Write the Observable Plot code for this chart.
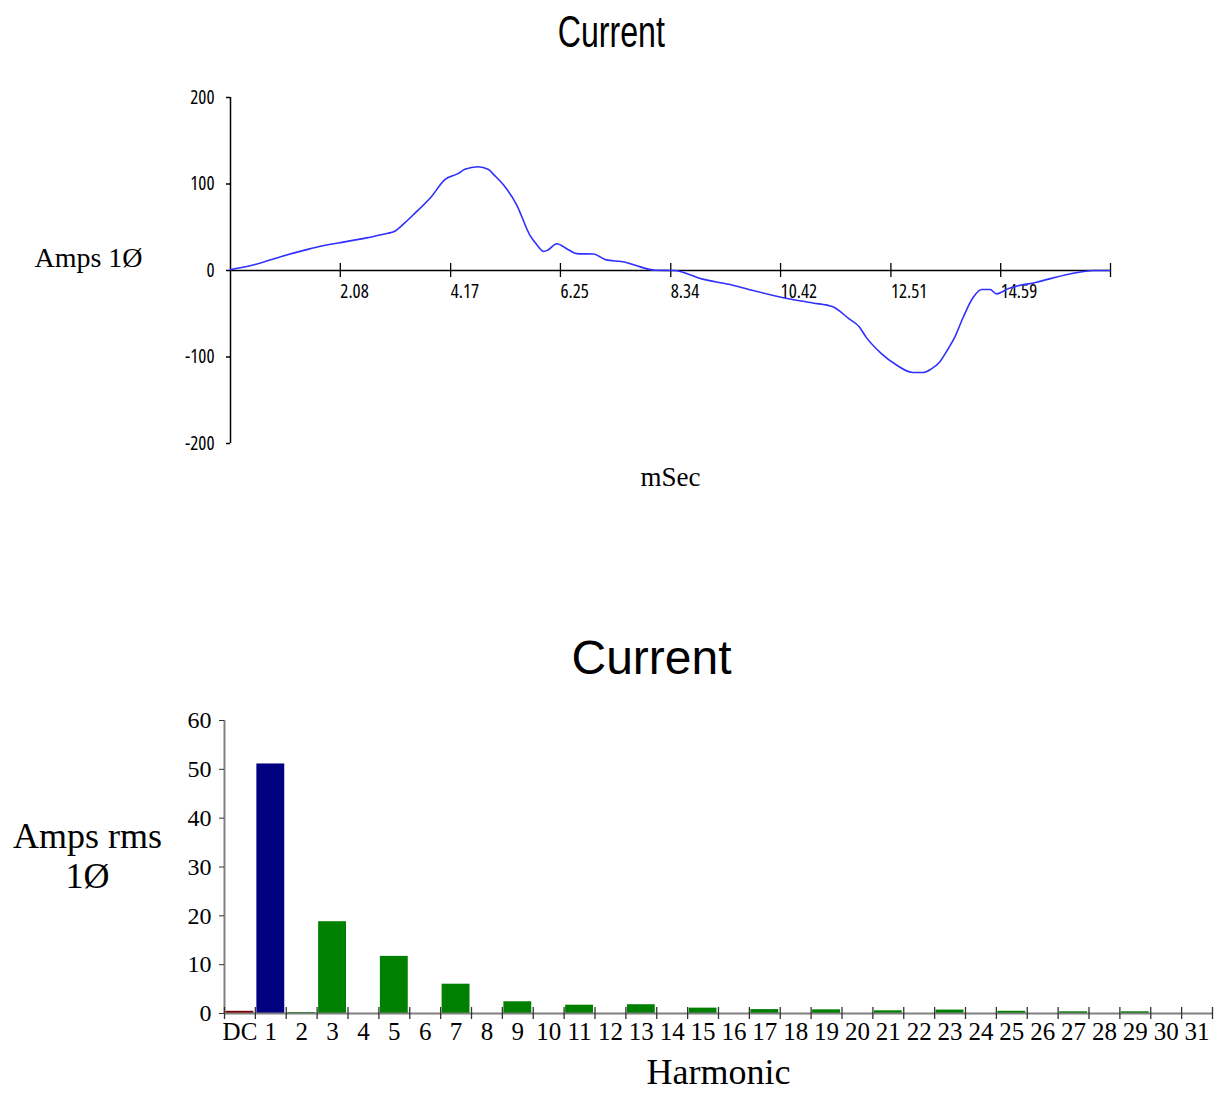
<!DOCTYPE html>
<html>
<head>
<meta charset="utf-8">
<script src="https://cdn.jsdelivr.net/npm/d3@7"></script>
<script src="https://cdn.jsdelivr.net/npm/@observablehq/plot@0.6"></script>
<style>
  body { margin: 0; background: #fff; }
  #wrap { position: relative; width: 1217px; height: 1094px; overflow: hidden; background: #fff; }
  .title1 { position: absolute; left: 0; top: 10px; width: 1217px; text-align: center;
            font: 44px/44px "Liberation Sans", Arial, sans-serif; color: #000; }
  .title1 span { display: inline-block; transform: scaleX(0.73); margin-left: 6px; }
  .title2 { position: absolute; left: 0; top: 634px; width: 1217px; text-align: center;
            font: 48px/48px "Liberation Sans", Arial, sans-serif; color: #000; }
  .title2 span { display: inline-block; margin-left: 86px; }
  #chart1 { position: absolute; left: 0; top: 62px; }
  #chart2 { position: absolute; left: 0; top: 700px; }
</style>
</head>
<body>
<div id="wrap">
  <div class="title1"><span>Current</span></div>
  <div id="chart1"></div>
  <div class="title2"><span>Current</span></div>
  <div id="chart2"></div>
</div>
<script>
// ---------- Waveform data (time in ms, current in A) ----------
const timeMs = [0, 0.41, 0.95, 1.5, 1.77, 2.06, 2.6, 2.98, 3.1, 3.3, 3.49, 3.8, 4.06, 4.31, 4.44, 4.69, 4.88, 5.0, 5.17, 5.42, 5.67, 5.8, 5.93, 6.02, 6.18, 6.4, 6.56, 6.88, 7.1, 7.48, 7.67, 8.05, 8.4, 8.94, 9.44, 9.82, 10.52, 11.03, 11.41, 11.72, 11.91, 12.04, 12.33, 12.61, 12.93, 13.12, 13.27, 13.43, 13.59, 13.72, 13.88, 14.07, 14.23, 14.39, 14.51, 14.73, 15.27, 15.9, 16.35, 16.67];
const currentAmps = [1, 6, 16, 25, 29, 32, 38, 43, 45, 55, 66, 85, 105, 112, 117, 120, 117, 110, 99, 76, 41, 30, 22, 24, 31, 24, 19.5, 19, 12.6, 9.6, 6, 0.3, 0, -10, -16, -22, -32, -37.5, -42, -56, -65, -77, -96, -109, -118, -118, -114, -106, -91, -77, -54, -31, -22, -22, -27, -21, -13.5, -4, 0, 0];
const waveTickValues = [2.08, 4.17, 6.25, 8.34, 10.42, 12.51, 14.59, 16.67];
const waveTickLabels = ["2.08", "4.17", "6.25", "8.34", "10.42", "12.51", "14.59", ""];
const ampTickValues = [-200, -100, 0, 100, 200];

// ---------- Harmonic spectrum data ----------
const harmonicLabels = ["DC", "1", "2", "3", "4", "5", "6", "7", "8", "9", "10", "11", "12", "13", "14", "15", "16", "17", "18", "19", "20", "21", "22", "23", "24", "25", "26", "27", "28", "29", "30", "31"];
const harmonicAmps = [0.45, 51.1, 0.2, 18.8, 0, 11.7, 0, 6.0, 0, 2.4, 0, 1.7, 0, 1.8, 0, 1.1, 0, 0.8, 0, 0.75, 0, 0.55, 0, 0.7, 0, 0.45, 0, 0.35, 0, 0.35, 0, 0];
const harmonicKinds = harmonicLabels.map((h, i) => i === 0 ? "dc" : i === 1 ? "fundamental" : "harmonic");
const rmsTickValues = [0, 10, 20, 30, 40, 50, 60];

const narrowFont = '"Open Sans", "Liberation Sans Narrow", "DejaVu Sans Condensed", sans-serif';

const waveData = timeMs.map((t, i) => ({t, a: currentAmps[i]}));

const chart1 = Plot.plot({
  width: 1217, height: 440,
  marginTop: 35, marginBottom: 59, marginLeft: 230, marginRight: 107,
  x: {domain: [0, 16.67], axis: null, label: null},
  y: {domain: [-200, 200], label: null},
  style: {fontFamily: narrowFont, fontSize: "19px", color: "#000", background: "transparent", fontStretch: "75%"},
  marks: [
    Plot.axisY({ticks: ampTickValues, tickSize: 4, tickPadding: 12, tickFormat: d => String(d), strokeWidth: 1.5, label: null}),
    Plot.ruleX([0], {stroke: "#000", strokeWidth: 1.5}),
    Plot.ruleY([0], {stroke: "#000", strokeWidth: 1.5}),
    Plot.ruleX(waveTickValues, {x: d => d, y1: 0, y2: 0, insetTop: -7, insetBottom: -7, stroke: "#000", strokeWidth: 1.3}),
    Plot.text(waveTickValues, {x: d => d, y: 0, text: (d, i) => waveTickLabels[i], textAnchor: "start", dy: 21}),
    Plot.line(waveData, {x: "t", y: "a", stroke: "#2f2fff", strokeWidth: 1.6, curve: "monotone-x"}),
    Plot.text(["Amps 1Ø"], {text: d => d, frameAnchor: "left", dx: -142, dy: -12, textAnchor: "middle", fontFamily: '"Liberation Serif", serif', fontSize: 28}),
    Plot.text(["mSec"], {text: d => d, frameAnchor: "bottom", dy: 42, fontFamily: '"Liberation Serif", serif', fontSize: 27})
  ]
});
document.getElementById("chart1").appendChild(chart1);

const barData = harmonicLabels.map((h, i) => ({i, h, v: harmonicAmps[i], kind: harmonicKinds[i]}));
const boundaries = d3.range(0, harmonicLabels.length + 1).map(k => k - 0.5);

const chart2 = Plot.plot({
  width: 1217, height: 394,
  marginTop: 20, marginBottom: 81, marginLeft: 224, marginRight: 5,
  x: {domain: [-0.5, harmonicLabels.length - 0.5], label: null},
  y: {domain: [0, 60], label: null},
  color: {domain: ["dc", "fundamental", "harmonic"], range: ["#800000", "#000080", "#008000"]},
  style: {fontFamily: '"Liberation Serif", "Times New Roman", serif', fontSize: "25px", color: "#000", background: "transparent"},
  marks: [
    Plot.rectY(barData, {x1: d => d.i - 0.5, x2: d => d.i + 0.5, y1: 0, y2: "v", fill: "kind", insetLeft: 1.5, insetRight: 1.5}),
    Plot.ruleX([-0.5], {stroke: "#808080", strokeWidth: 2}),
    Plot.ruleY([0], {stroke: "#808080", strokeWidth: 2}),
    Plot.ruleX(boundaries, {x: d => d, y1: 0, y2: 0, insetTop: -6, insetBottom: -6, stroke: "#333", strokeWidth: 1.3}),
    Plot.axisY({ticks: rmsTickValues, tickSize: 5, tickPadding: 8, stroke: "#333", label: null, fontSize: 24}),
    Plot.axisX({ticks: d3.range(0, harmonicLabels.length), tickFormat: i => harmonicLabels[i], tickSize: 0, tickPadding: 9, label: null}),
    Plot.text(["Harmonic"], {text: d => d, frameAnchor: "bottom", dy: 70, fontSize: 36}),
    Plot.text(["Amps rms\n1Ø"], {text: d => d, frameAnchor: "left", dx: -137, dy: -12, fontSize: 36, lineHeight: 1.12, textAnchor: "middle"})
  ]
});
document.getElementById("chart2").appendChild(chart2);
</script>
</body>
</html>
